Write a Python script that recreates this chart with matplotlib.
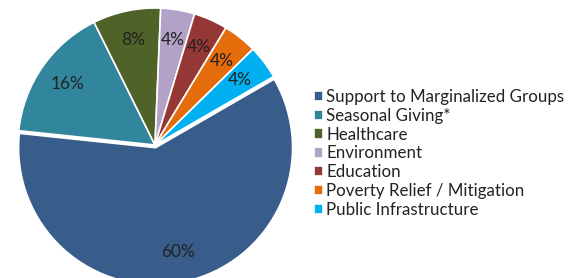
import matplotlib
matplotlib.use("Agg")
from matplotlib import pyplot as plt

categories = ["Support to Marginalized Groups", "Seasonal Giving*", "Healthcare",
              "Environment", "Education", "Poverty Relief / Mitigation",
              "Public Infrastructure"]
shares = [60, 16, 8, 4, 4, 4, 4]
colors = ["#385D8A", "#31859C", "#4F6228", "#B3A2C7", "#953735", "#E46C0A", "#00B0F0"]

plt.rcParams['font.family'] = ['Lato', 'DejaVu Sans']

fig = plt.figure(figsize=(5.71, 2.78), dpi=100)
ax = fig.add_axes([18/571, -4/278, 274/571, 274/278])

wedges, texts, autotexts = ax.pie(
    shares, colors=colors, startangle=30, counterclock=False,
    explode=[0.02, 0, 0, 0, 0, 0, 0],
    autopct=lambda p: "%d%%" % round(p), pctdistance=0.78,
    wedgeprops=dict(edgecolor="white", linewidth=1.2),
    textprops=dict(fontsize=12.5, color="#222222"))
for w in wedges:
    w.set_clip_on(False)
ax.set_xlim(-1, 1)
ax.set_ylim(-1, 1)

fig.legend(wedges, categories, loc="upper left", bbox_to_anchor=(307/571, 1 - 82/278),
           frameon=False, fontsize=12.2, handlelength=0.55, handleheight=0.55,
           handletextpad=0.2, labelspacing=0.17, borderaxespad=0,
           labelcolor="#222222")

fig.savefig("out.png", dpi=100)
